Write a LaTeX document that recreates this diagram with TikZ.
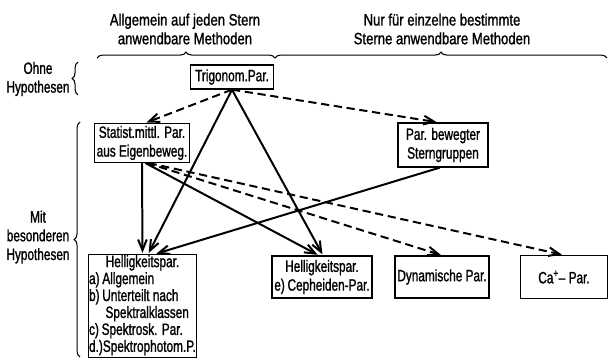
\documentclass[tikz,border=0pt]{standalone}
\usepackage{fontspec}
\setmainfont{Liberation Sans}[FakeStretch=0.72, FakeBold=1.2]
\newfontfamily\headfont{Liberation Sans}[FakeStretch=0.8, FakeBold=1.2]
\usetikzlibrary{arrows.meta,decorations.pathreplacing}

\tikzset{
  parbox/.style={draw, line width=1.1pt, inner sep=2pt, align=center},
  headtext/.style={align=center, font=\headfont\fontsize{14}{16}\selectfont},
  grp/.style={decorate, decoration={brace, amplitude=5pt}, line width=0.9pt},
  sure/.style={line width=1.7pt, -{Straight Barb[length=3.2mm,width=2.6mm]}, shorten >=1pt},
  guess/.style={sure, dash pattern=on 7pt off 4pt}
}

\begin{document}
\begin{tikzpicture}[x=0.03cm, y=-0.03cm, font=\fontsize{14}{16}\selectfont]
  \useasboundingbox (0,0) rectangle (609,357);

  \node[headtext] (allg) at (185,29) {Allgemein auf jeden Stern\\anwendbare Methoden};
  \node[headtext] (einz) at (442,29) {Nur für einzelne bestimmte\\Sterne anwendbare Methoden};
  \draw[grp] (97,58) -- (275,58);
  \draw[grp] (275,58) -- (607,58);

  \node[align=center] (ohne) at (38,79) {Ohne\\Hypothesen};
  \node[align=center] (mit) at (38,237) {Mit\\besonderen\\Hypothesen};
  \draw[grp] (78,95) -- (78,62);
  \draw[grp] (80,357) -- (80,122);

  \node[parbox, minimum width=2.49cm, minimum height=0.72cm] (trig) at (232,77) {Trigonom.Par.};
  \node[parbox, minimum width=2.7cm] (stat) at (142,143) {Statist.mittl. Par.\\aus Eigenbeweg.};
  \node[parbox, minimum width=2.7cm, minimum height=1.32cm] (bew) at (443,145) {Par. bewegter\\Sterngruppen};
  \node[parbox, anchor=north, inner sep=0.5pt, minimum width=2.91cm] (hella) at (142.5,254)
    {\fontsize{14}{14.4}\selectfont\begin{tabular}{@{}l@{}}\multicolumn{1}{@{}c@{}}{Helligkeitspar.}\\a)\,Allgemein\\b)\,Unterteilt nach\\\quad Spektralklassen\\c)\,Spektrosk. Par.\\d.)Spektrophotom.P.\end{tabular}};
  \node[parbox, minimum width=2.82cm, minimum height=1.26cm] (hellb) at (322,277) {Helligkeitspar.\\e)\,Cepheiden-Par.};
  \node[parbox, minimum width=2.73cm, minimum height=1.26cm] (dyn) at (442,277) {Dynamische Par.};
  \node[parbox, minimum width=2.6cm, minimum height=1.29cm] (ca) at (564,277) {Ca\textsuperscript{+}– Par.};

  \draw[guess] (trig.south) -- ([xshift=0.1cm]stat.north);
  \draw[guess] (trig.south) -- ([xshift=-0.15cm]bew.north);
  \draw[sure] (trig.south) -- ([xshift=0.17cm]hella.north);
  \draw[sure] (trig.south) -- ([xshift=0.03cm]hellb.north);
  \draw[sure] (stat.south) -- (hella.north);
  \draw[sure] ([xshift=0.1cm]stat.south) -- ([xshift=-0.1cm]hellb.north);
  \draw[guess] ([xshift=0.15cm]stat.south) -- (dyn.north);
  \draw[guess] ([xshift=0.2cm]stat.south) -- ([xshift=-0.03cm]ca.north);
  \draw[sure] ([xshift=-0.1cm]bew.south) -- ([xshift=0.38cm]hella.north);
\end{tikzpicture}
\end{document}
